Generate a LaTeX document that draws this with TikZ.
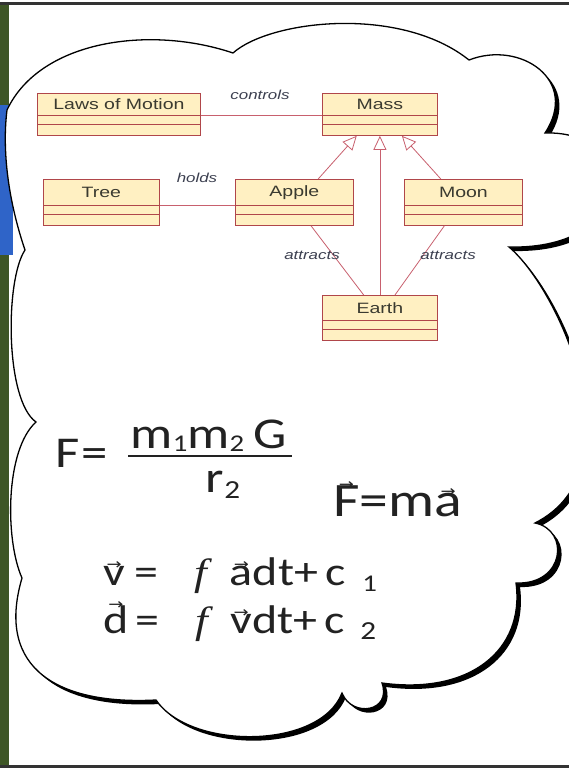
\documentclass[tikz,border=0pt]{standalone}
\usepackage{graphicx}
\usepackage{fontspec}
\setmainfont{Liberation Sans}
\newfontfamily\eqfont{Carlito}
\newfontfamily\intfont{Liberation Serif}
\newfontfamily\arrowfont{DejaVu Sans}
\usetikzlibrary{arrows.meta,calc}

\definecolor{boxfill}{HTML}{FFF0C2}
\definecolor{boxline}{HTML}{B0464A}
\definecolor{conline}{HTML}{C8606E}
\definecolor{boxtext}{HTML}{3A3A30}
\definecolor{labtext}{HTML}{3C4050}
\definecolor{stripgreen}{HTML}{3E5626}
\definecolor{stripblue}{HTML}{2F64C8}
\definecolor{eqtext}{HTML}{222222}

\newcommand\sx[1]{\scalebox{1.3}[1]{#1}}
\newcommand\sxe[1]{\scalebox{1.2}[1]{#1}}
% size, lowering, text
\newcommand\subx[3]{\raisebox{-#2pt}{\fontsize{#1}{#1}\selectfont #3}}
\newcommand\vv[1]{\leavevmode\vbox{\offinterlineskip\halign{\hfil##\hfil\cr{\arrowfont\fontsize{15}{15}\selectfont →}\cr\noalign{\kern-4pt}#1\cr}}}
\newcommand\intf{{\intfont\itshape\fontsize{38}{38}\selectfont f}}

\tikzset{
 ubox/.style={draw=boxline, fill=boxfill, line width=0.8pt, rectangle, inner sep=0pt, anchor=north west},
 sepline/.style={draw=boxline, line width=0.8pt},
 utext/.style={text=boxtext, font=\fontsize{15}{18}\selectfont, inner sep=0pt},
 assoc/.style={draw=conline, line width=0.8pt},
 inherit/.style={draw=conline, line width=0.8pt, -{Triangle[open, length=14pt, width=13pt]}},
 rolelab/.style={text=labtext, font=\fontsize{13}{15}\selectfont\itshape, inner sep=0pt},
 eq/.style={inner sep=0pt, text=eqtext, font=\eqfont\fontsize{40}{44}\selectfont},
 eqbig/.style={eq, font=\eqfont\fontsize{44}{48}\selectfont},
 eqhuge/.style={eq, font=\eqfont\fontsize{48}{52}\selectfont},
 cloudline/.style={draw=black, line width=1.3pt, fill=white},
}

\newcommand\umlbox[6]{%
 \node[ubox, minimum width=#4pt, minimum height=#5pt] (#1) at (#2,#3) {};
 \draw[sepline] ($(#1.south west)+(0,-20)$) -- ($(#1.south east)+(0,-20)$);
 \draw[sepline] ($(#1.south west)+(0,-11)$) -- ($(#1.south east)+(0,-11)$);
 \path (#1.north) -- ($(#1.south)+(0,-20)$) node[midway, utext] (#1t) {\sx{#6}};
}

\def\cloudpath{(7,110) .. controls (40,40) and (150,25) .. (233,53)
 .. controls (270,20) and (400,5) .. (469,60)
 .. controls (520,40) and (580,80) .. (545,133)
 .. controls (640,130) and (640,250) .. (509,247)
 .. controls (560,290) and (640,470) .. (535,523)
 .. controls (570,530) and (565,585) .. (516,583)
 .. controls (525,650) and (470,695) .. (382,683)
 .. controls (392,712) and (352,718) .. (342,693)
 .. controls (320,750) and (190,750) .. (156,700)
 .. controls (60,705) and (-5,670) .. (22,578)
 .. controls (5,540) and (5,450) .. (36,422)
 .. controls (5,400) and (5,280) .. (25,250)
 .. controls (8,200) and (2,150) .. (7,110) -- cycle}

\begin{document}
\begin{tikzpicture}[x=1pt,y=-1pt]
\useasboundingbox (0,0) rectangle (569,769);
\clip (0,0) rectangle (569,769);
\fill[white] (0,0) rectangle (569,769);
% left strip
\fill[stripgreen] (0,5) rectangle (9,766);
\fill[stripblue] (0,105) rectangle (13,255);
% top and bottom borders
\draw[line width=3pt, black!80] (0,3) -- (569,3);
\draw[line width=3pt, black!80] (0,766) -- (569,766);
% cloud
\fill[black, shift={(4,4)}] \cloudpath;
\path[cloudline] \cloudpath;

% UML boxes
\umlbox{laws}{37}{93}{163}{42}{Laws of Motion}
\umlbox{mass}{322}{93}{115}{42}{Mass}
\umlbox{tree}{43}{179}{116}{46}{Tree}
\umlbox{apple}{235}{179}{118}{46}{Apple}
\umlbox{moon}{404}{179}{118}{46}{Moon}
\umlbox{earth}{322}{295}{115}{45}{Earth}

% connectors
\draw[assoc] ($(laws.south east)+(0,-20)$) -- ($(mass.south west)+(0,-20)$);
\draw[assoc] ($(tree.south east)+(0,-20)$) -- ($(apple.south west)+(0,-20)$);
\draw[inherit] ($(apple.north west)!0.70!(apple.north east)$) -- ($(mass.south west)!0.30!(mass.south east)$);
\draw[inherit] (earth.north) -- (mass.south);
\draw[inherit] ($(moon.north west)!0.31!(moon.north east)$) -- ($(mass.south west)!0.69!(mass.south east)$);
\draw[assoc] ($(apple.south west)!0.64!(apple.south east)$) -- ($(earth.north west)!0.36!(earth.north east)$);
\draw[assoc] ($(moon.south west)!0.34!(moon.south east)$) -- ($(earth.north west)!0.63!(earth.north east)$);

% role labels
\node[rolelab] (lcontrols) at (260,95) {\sx{controls}};
\node[rolelab] (lholds) at (197,178) {\sx{holds}};
\node[rolelab] (lattr1) at (312,255) {\sx{attracts}};
\node[rolelab] (lattr2) at (448,255) {\sx{attracts}};

% equations
\node[eqbig, anchor=base west] (feq) at (55,467) {\sxe{F\hspace{2pt}=}};
\node[eqbig, anchor=base] (num) at (209,448) {\sxe{m\subx{24}{3}{1}m\subx{24}{3}{2}\hspace{8pt}G}};
\draw[line width=2.4pt, eqtext] (128,456) -- (292,456);
\node[eqbig, anchor=base] (den) at (223,492) {\sxe{r\subx{26}{6}{2}}};
\node[eqhuge, anchor=base west] (fma) at (333,516) {\sxe{\vv{F}=m\vv{a}}};
\node[eq, anchor=base west] (veq) at (103,585) {\sxe{\vv{v}\hspace{8pt}=\hspace{30pt}\intf\hspace{19pt}\vv{a}dt+\hspace{6pt}c\hspace{14pt}\subx{24}{6}{1}}};
\node[eq, anchor=base west] (deq) at (103,633) {\sxe{\vv{d}\hspace{6pt}=\hspace{30pt}\intf\hspace{18.5pt}\vv{v}dt+\hspace{6pt}c\hspace{13pt}\subx{26}{6}{2}}};
\end{tikzpicture}
\end{document}
